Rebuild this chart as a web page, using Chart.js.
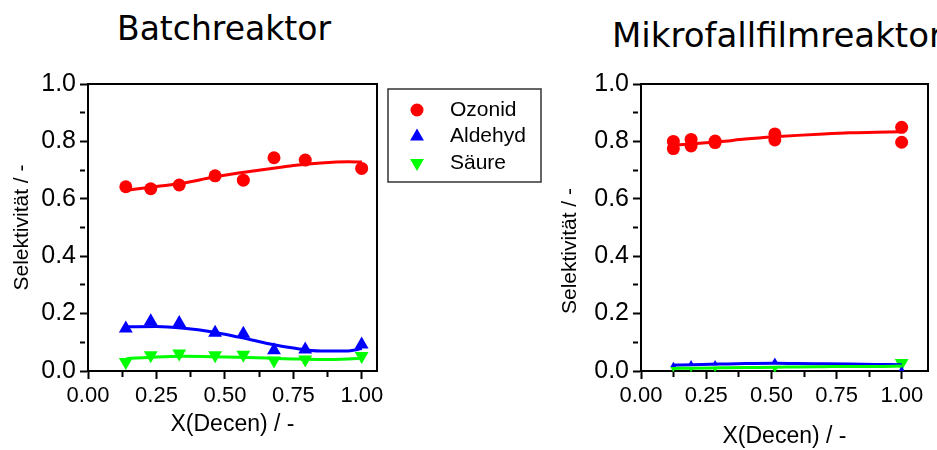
<!DOCTYPE html>
<html>
<head>
<meta charset="utf-8">
<script src="https://cdn.jsdelivr.net/npm/chart.js@4.4.1/dist/chart.umd.min.js"></script>
<style>
  html, body { margin: 0; padding: 0; background: #fff; }
  body { width: 937px; height: 450px; position: relative; overflow: hidden; font-family: "Liberation Sans", Arial, sans-serif; }
  .title { position: absolute; font-family: "DejaVu Sans"; font-size: 33px; line-height: 33px; white-space: nowrap; color: #000; }
  .box { position: absolute; top: 0; height: 450px; }
  #yTitleMikro { position: absolute; left: 469px; top: 239px; width: 200px; height: 24px; line-height: 24px; text-align: center; font-size: 21px; color: #000; transform: rotate(-90deg); }
</style>
</head>
<body>
<div class="title" style="left:117px;top:12px">Batchreaktor</div>
<div class="title" style="left:612px;top:19px;font-size:34px">Mikrofallfilmreaktor</div>
<div class="box" style="left:0;width:560px"><canvas id="batch" width="560" height="450"></canvas></div>
<div class="box" style="left:560px;width:377px"><canvas id="mikro" width="377" height="450"></canvas></div>
<div id="yTitleMikro">Selektivität / -</div>
<script>
// Batchreaktor: measured points
const batchX = [0.138, 0.229, 0.333, 0.464, 0.567, 0.679, 0.793, 0.999];
const batchOzonid = [0.642, 0.635, 0.648, 0.680, 0.665, 0.743, 0.735, 0.706];
const batchAldehyd = [0.148, 0.173, 0.167, 0.133, 0.130, 0.072, 0.075, 0.092];
const batchSaeure = [0.031, 0.055, 0.061, 0.055, 0.057, 0.037, 0.040, 0.052];

// Batchreaktor: fitted curves
const batchFitX = [0.14, 0.25, 0.35, 0.45, 0.55, 0.65, 0.75, 0.85, 0.95, 1.0];
const batchFitOzonid = [0.630, 0.643, 0.655, 0.674, 0.690, 0.703, 0.716, 0.725, 0.729, 0.728];
const batchFitAldehyd = [0.154, 0.155, 0.149, 0.137, 0.118, 0.097, 0.080, 0.070, 0.070, 0.078];
const batchFitSaeure = [0.043, 0.049, 0.051, 0.050, 0.048, 0.045, 0.042, 0.040, 0.042, 0.045];

// Mikrofallfilmreaktor: measured points
const mikroOzonidX = [0.124, 0.124, 0.192, 0.192, 0.284, 0.284, 0.513, 0.513, 0.999, 0.999];
const mikroOzonid = [0.800, 0.775, 0.807, 0.784, 0.801, 0.796, 0.826, 0.805, 0.849, 0.797];
const mikroX = [0.124, 0.192, 0.284, 0.513, 0.999];
const mikroAldehyd = [0.020, 0.026, 0.026, 0.035, 0.006];
const mikroSaeure = [0.008, 0.008, 0.008, 0.006, 0.028];

// Mikrofallfilmreaktor: fitted curves
const mikroFitX = [0.124, 0.2, 0.3, 0.4, 0.513, 0.6, 0.7, 0.8, 0.9, 1.0];
const mikroFitOzonid = [0.787, 0.792, 0.799, 0.808, 0.816, 0.821, 0.826, 0.830, 0.832, 0.834];
const mikroFitAldehyd = [0.021, 0.022, 0.024, 0.026, 0.027, 0.026, 0.025, 0.024, 0.023, 0.022];
const mikroFitSaeure = [0.009, 0.010, 0.011, 0.012, 0.013, 0.014, 0.015, 0.016, 0.016, 0.017];

const xTicks = ['0.00', '0.25', '0.50', '0.75', '1.00'];
const yTicks = ['0.0', '0.2', '0.4', '0.6', '0.8', '1.0'];

const RED = '#ff0000', BLUE = '#0000ff', GREEN = '#00ff00';
const FONT = '"Liberation Sans", Arial, sans-serif';

const pts = (xs, ys) => xs.map((x, i) => ({ x: x, y: ys[i] }));

function marks(label, xs, ys, color, style, rot, radius) {
  return {
    label: label, data: pts(xs, ys), showLine: false,
    pointStyle: style, pointRotation: rot, pointRadius: radius,
    backgroundColor: color, borderColor: color, pointBorderWidth: 0,
    pointHoverRadius: radius, clip: false
  };
}

function fit(xs, ys, color) {
  return {
    fit: true, data: pts(xs, ys), showLine: true, pointRadius: 0, pointHoverRadius: 0,
    borderColor: color, borderWidth: 3, tension: 0.4, cubicInterpolationMode: 'monotone', clip: false
  };
}

function xAxis(max, titlePad) {
  const major = v => Math.round(v * 8) % 2 === 0;
  return {
    type: 'linear', min: 0, max: max,
    afterFit: s => { s.height = 79; },
    border: { color: '#000', width: 2 },
    grid: {
      drawOnChartArea: false, tickLength: 8, tickColor: '#000', tickWidth: 2,
      tickBorderDash: c => major(c.tick.value) ? [] : [5, 20]
    },
    ticks: {
      stepSize: 0.125, includeBounds: false, autoSkip: false, maxRotation: 0, padding: 4,
      color: '#000', font: { family: FONT, size: 22 },
      callback: v => major(v) ? xTicks[Math.round(v * 4)] : ''
    },
    title: { display: true, text: 'X(Decen) / -', color: '#000', font: { family: FONT, size: 23 }, padding: { top: 0, bottom: titlePad } }
  };
}

function yAxis(width, showTitle) {
  const major = v => Math.round(v * 10) % 2 === 0;
  return {
    type: 'linear', min: 0, max: 1,
    afterFit: s => { s.width = width; },
    border: { color: '#000', width: 2 },
    grid: {
      drawOnChartArea: false, tickLength: 8, tickColor: '#000', tickWidth: 2,
      tickBorderDash: c => major(c.tick.value) ? [] : [5, 20]
    },
    ticks: {
      stepSize: 0.1, autoSkip: false, padding: 4,
      color: '#000', font: { family: FONT, size: 25 },
      callback: v => major(v) ? yTicks[Math.round(v * 5)] : ''
    },
    title: { display: showTitle, text: 'Selektivität / -', color: '#000', font: { family: FONT, size: 21 }, padding: { top: 10, bottom: 0 } }
  };
}

// closes the plot box on top and right
const frame = {
  id: 'frame',
  beforeDatasetsDraw(chart) {
    const a = chart.chartArea, ctx = chart.ctx;
    ctx.save();
    ctx.strokeStyle = '#000';
    ctx.lineWidth = 2;
    ctx.strokeRect(a.left, a.top, a.right - a.left, a.bottom - a.top);
    ctx.restore();
  }
};

// framed legend next to the batch plot
const boxLegend = {
  id: 'boxLegend',
  afterDraw(chart, args, o) {
    if (!o.show) return;
    const ctx = chart.ctx;
    const left = chart.chartArea.right + 11, top = chart.chartArea.top + 5;
    ctx.save();
    ctx.strokeStyle = '#333';
    ctx.lineWidth = 1.5;
    ctx.strokeRect(left, top, 153, 93);
    ctx.font = '21px ' + FONT;
    ctx.textBaseline = 'middle';
    chart.data.datasets.filter(d => !d.fit).forEach((d, i) => {
      const y = top + 21 + i * 26.5;
      ctx.fillStyle = d.backgroundColor;
      Chart.helpers.drawPoint(ctx, { pointStyle: d.pointStyle, rotation: d.pointRotation, radius: d.pointStyle === 'circle' ? 6.5 : 8, borderWidth: 0 }, left + 29, y);
      ctx.fillStyle = '#000';
      ctx.fillText(d.label, left + 62, y);
    });
    ctx.restore();
  }
};

function makeChart(id, datasets, xMax, yWidth, showYTitle, pad, titlePad, legend) {
  return new Chart(document.getElementById(id), {
    type: 'scatter',
    data: { datasets: datasets },
    options: {
      responsive: false, animation: false, devicePixelRatio: 1,
      layout: { padding: pad },
      scales: { x: xAxis(xMax, titlePad), y: yAxis(yWidth, showYTitle) },
      plugins: { legend: { display: false }, tooltip: { enabled: false }, boxLegend: { show: legend } },
      events: []
    },
    plugins: [frame, boxLegend]
  });
}

makeChart('batch', [
  fit(batchFitX, batchFitOzonid, RED),
  fit(batchFitX, batchFitAldehyd, BLUE),
  fit(batchFitX, batchFitSaeure, GREEN),
  marks('Ozonid', batchX, batchOzonid, RED, 'circle', 0, 6.5),
  marks('Aldehyd', batchX, batchAldehyd, BLUE, 'triangle', 0, 8),
  marks('Säure', batchX, batchSaeure, GREEN, 'triangle', 180, 8)
], 1.055, 88, true, { left: 0, top: 84, right: 183, bottom: 0 }, 12, true);

makeChart('mikro', [
  fit(mikroFitX, mikroFitOzonid, RED),
  fit(mikroFitX, mikroFitSaeure, GREEN),
  fit(mikroFitX, mikroFitAldehyd, BLUE),
  marks('Ozonid', mikroOzonidX, mikroOzonid, RED, 'circle', 0, 6.5),
  marks('Aldehyd', mikroX, mikroAldehyd, BLUE, 'triangle', 0, 3.5),
  marks('Säure', mikroX, mikroSaeure, GREEN, 'triangle', 180, [3.5, 3.5, 3.5, 3.5, 8])
], 1.1, 81, false, { left: 0, top: 84, right: 9, bottom: 0 }, 0, false);
</script>
</body>
</html>
